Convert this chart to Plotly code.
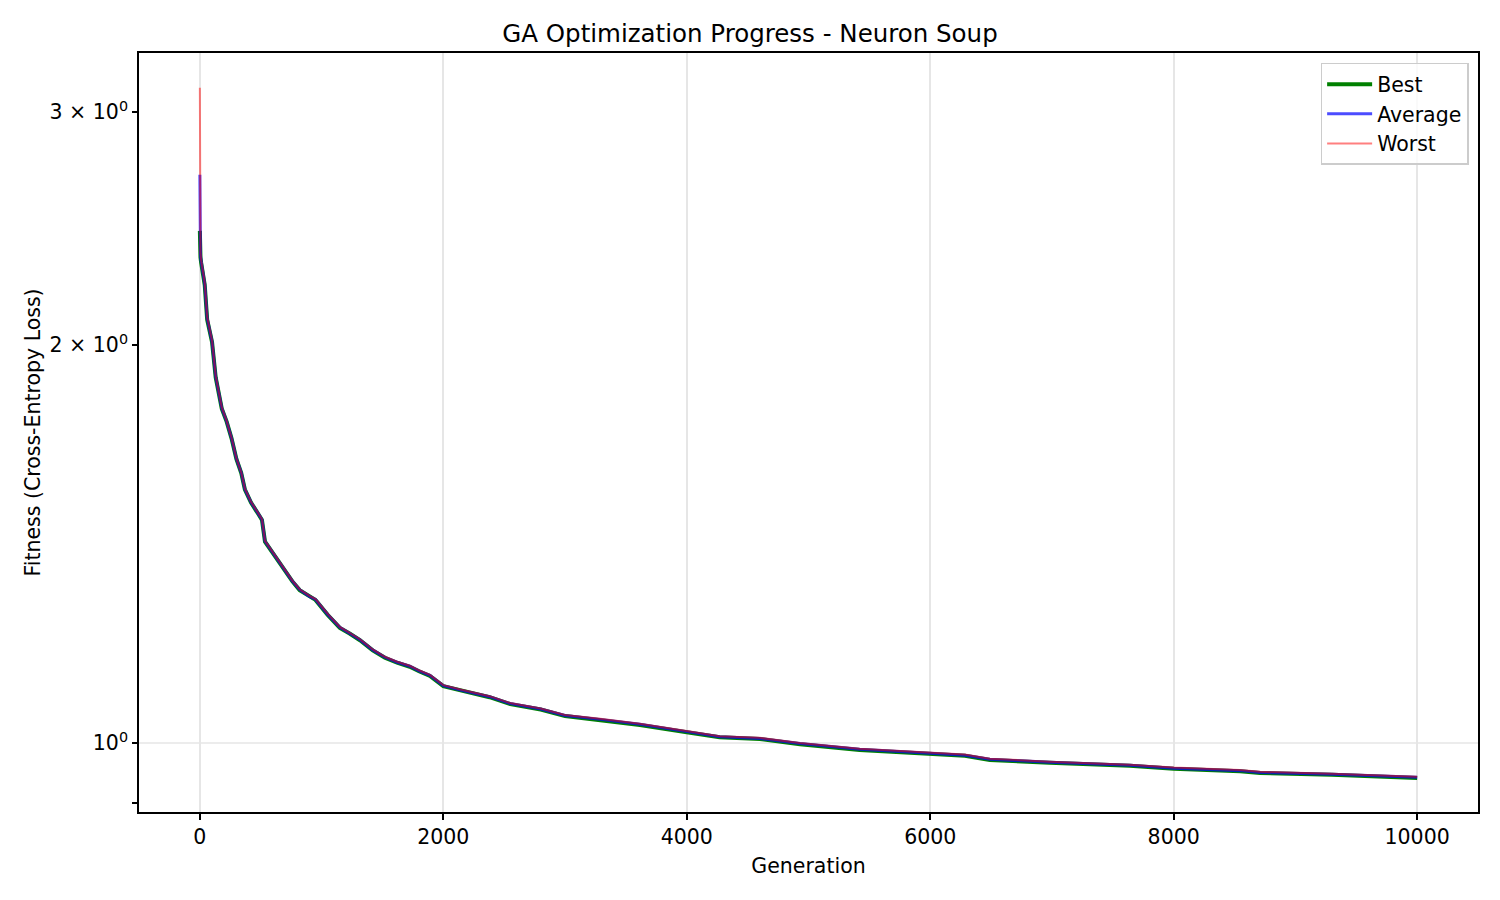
import plotly.graph_objects as go

generations = [0, 1, 3, 5, 10, 25, 40, 60, 80, 100, 130, 160, 180, 220, 260, 300, 340, 370, 420, 480, 510, 535, 580, 640, 700, 760, 820, 900, 950, 1050, 1150, 1230, 1315, 1420, 1520, 1620, 1725, 1800, 1890, 2000, 2150, 2380, 2550, 2800, 3000, 3290, 3615, 4000, 4270, 4600, 4930, 5420, 6000, 6285, 6490, 6980, 7640, 8000, 8545, 8710, 9300, 10000]
best = [2.44, 2.35, 2.34, 2.33, 2.31, 2.27, 2.22, 2.09, 2.05, 2.01, 1.89, 1.83, 1.79, 1.75, 1.70, 1.64, 1.60, 1.555, 1.52, 1.49, 1.475, 1.42, 1.40, 1.375, 1.35, 1.325, 1.305, 1.29, 1.283, 1.25, 1.222, 1.21, 1.196, 1.175, 1.16, 1.15, 1.142, 1.133, 1.124, 1.104, 1.095, 1.083, 1.070, 1.06, 1.048, 1.041, 1.032, 1.019, 1.010, 1.007, 0.998, 0.988, 0.981, 0.978, 0.971, 0.966, 0.961, 0.956, 0.952, 0.949, 0.946, 0.941]
average = [2.69, 2.40, 2.36, 2.34, 2.315, 2.275, 2.225, 2.095, 2.055, 2.012, 1.892, 1.832, 1.792, 1.751, 1.701, 1.641, 1.601, 1.556, 1.521, 1.491, 1.476, 1.421, 1.401, 1.376, 1.351, 1.326, 1.306, 1.291, 1.284, 1.251, 1.223, 1.211, 1.197, 1.176, 1.161, 1.151, 1.143, 1.134, 1.125, 1.105, 1.096, 1.084, 1.071, 1.061, 1.049, 1.042, 1.033, 1.020, 1.011, 1.008, 0.999, 0.989, 0.982, 0.979, 0.972, 0.967, 0.962, 0.957, 0.953, 0.950, 0.947, 0.942]
worst = [3.13, 2.50, 2.38, 2.35, 2.32, 2.28, 2.23, 2.10, 2.06, 2.015, 1.895, 1.834, 1.794, 1.752, 1.702, 1.642, 1.602, 1.557, 1.522, 1.492, 1.477, 1.422, 1.402, 1.377, 1.352, 1.327, 1.307, 1.292, 1.285, 1.252, 1.224, 1.212, 1.198, 1.177, 1.162, 1.152, 1.144, 1.135, 1.126, 1.106, 1.097, 1.085, 1.072, 1.062, 1.050, 1.043, 1.034, 1.021, 1.012, 1.009, 1.000, 0.990, 0.983, 0.980, 0.973, 0.968, 0.963, 0.958, 0.954, 0.951, 0.948, 0.943]

x_ticks = [0, 2000, 4000, 6000, 8000, 10000]
y_ticks = [0.9, 1, 2, 3]
y_tick_text = ["", "10<sup>0</sup>", "2 × 10<sup>0</sup>", "3 × 10<sup>0</sup>"]

FS = 20.5

fig = go.Figure()
fig.add_trace(go.Scatter(x=generations, y=best, mode="lines", name="Best",
                         line=dict(color="green", width=4)))
fig.add_trace(go.Scatter(x=generations, y=average, mode="lines", name="Average",
                         line=dict(color="rgba(0,0,255,0.7)", width=3)))
fig.add_trace(go.Scatter(x=generations, y=worst, mode="lines", name="Worst",
                         line=dict(color="rgba(255,0,0,0.5)", width=2)))

fig.add_shape(type="line", xref="paper", x0=0, x1=1, yref="y", y0=1, y1=1,
              line=dict(color="#e6e6e6", width=1.6), layer="below")

fig.update_layout(
    width=1500, height=900,
    margin=dict(l=139, r=22, t=53, b=88),
    paper_bgcolor="white", plot_bgcolor="white",
    font=dict(family="DejaVu Sans", size=FS, color="black"),
    title=dict(text="GA Optimization Progress - Neuron Soup", x=0.5, xanchor="center",
               y=1 - 33 / 900, yanchor="middle", font=dict(size=24.5)),
    showlegend=True,
    legend=dict(x=0.993, y=0.987, xanchor="right", yanchor="top",
                bordercolor="#cccccc", borderwidth=1.5, bgcolor="rgba(255,255,255,0.8)",
                font=dict(size=FS), itemwidth=45),
)
fig.update_xaxes(
    range=[-500, 10500], tickvals=x_ticks, ticktext=[str(v) for v in x_ticks],
    showgrid=True, gridcolor="#e6e6e6", gridwidth=1.6, zeroline=False,
    showline=True, linecolor="black", linewidth=1.7, mirror=True,
    ticks="outside", ticklen=6, tickwidth=1.7, tickcolor="black",
    title=dict(text="Generation", standoff=10, font=dict(size=FS)),
)
fig.update_yaxes(
    type="log", range=[-0.0522, 0.5219], tickvals=y_ticks, ticktext=y_tick_text,
    showgrid=False, zeroline=False,
    showline=True, linecolor="black", linewidth=1.7, mirror=True,
    ticks="outside", ticklen=5, tickwidth=1.7, tickcolor="black",
    title=dict(text="Fitness (Cross-Entropy Loss)", standoff=3, font=dict(size=FS)),
)

fig.write_html("out.html")
